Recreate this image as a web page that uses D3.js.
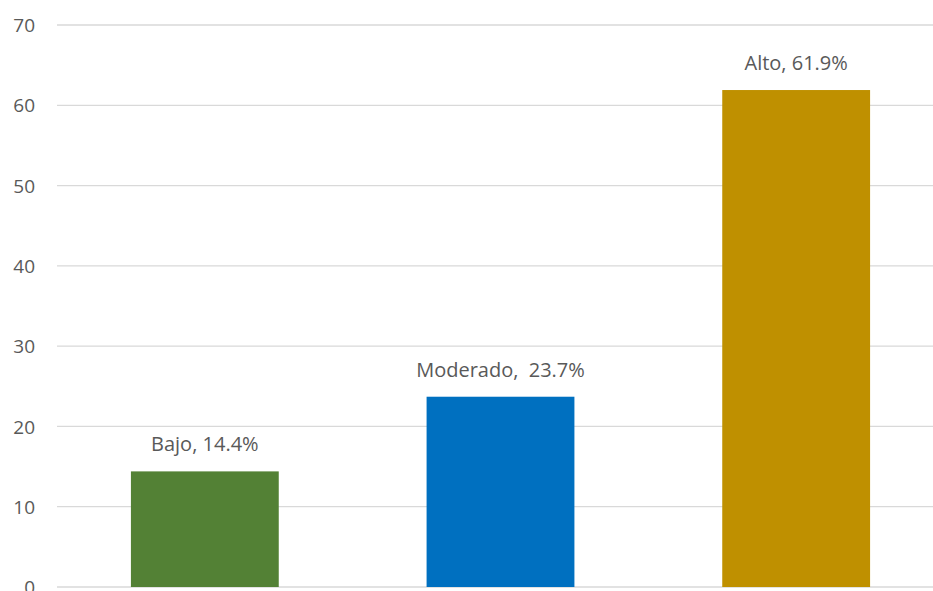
<!DOCTYPE html>
<html>
<head>
<meta charset="utf-8">
<script src="https://cdn.jsdelivr.net/npm/d3@7/dist/d3.min.js"></script>
<style>
  html, body { margin: 0; padding: 0; background: #fff; }
  svg { display: block; }
  text { font-family: "Open Sans", "Noto Sans", sans-serif; fill: #595959; }
</style>
</head>
<body>
<svg id="chart" width="933" height="591"></svg>
<script>
// Risk levels and their shares (%)
const categories = ["Bajo", "Moderado", "Alto"];
const values = [14.4, 23.7, 61.9];
const labels = ["Bajo, 14.4%", "Moderado,  23.7%", "Alto, 61.9%"];
const colors = ["#538135", "#0070C0", "#BF9000"];
const yTicks = [0, 10, 20, 30, 40, 50, 60, 70];

const svg = d3.select("#chart");
const W = 933, H = 591;
const plotLeft = 57, plotRight = 944, plotTop = 25, plotBottom = 587;

const x = d3.scaleBand().domain(categories).range([plotLeft, plotRight]).paddingInner(0.5).paddingOuter(0.25);
const y = d3.scaleLinear().domain([0, 70]).range([plotBottom, plotTop]);

// horizontal gridlines
svg.append("g")
  .selectAll("line")
  .data(yTicks)
  .join("line")
  .attr("x1", plotLeft).attr("x2", W)
  .attr("y1", d => y(d)).attr("y2", d => y(d))
  .attr("stroke", "#d9d9d9").attr("stroke-width", 1.3);

// y-axis tick labels
const yAxis = d3.axisLeft(y).tickValues(yTicks).tickSize(0).tickPadding(0);
const gy = svg.append("g").attr("transform", "translate(35,0)").call(yAxis);
gy.select(".domain").remove();
gy.selectAll("text")
  .attr("font-size", 19)
  .attr("dy", "0.35em")
  .style("font-family", '"Open Sans", "Noto Sans", sans-serif')
  .attr("fill", "#595959");

// bars
svg.append("g")
  .selectAll("rect")
  .data(categories)
  .join("rect")
  .attr("x", d => x(d))
  .attr("width", x.bandwidth())
  .attr("y", (d, i) => y(values[i]))
  .attr("height", (d, i) => y(0) - y(values[i]))
  .attr("fill", (d, i) => colors[i]);

// value labels
svg.append("g")
  .selectAll("text")
  .data(categories)
  .join("text")
  .attr("x", d => x(d) + x.bandwidth() / 2)
  .attr("y", (d, i) => y(values[i]) - 20)
  .attr("text-anchor", "middle")
  .attr("font-size", 20)
  .style("white-space", "pre")
  .text((d, i) => labels[i]);
</script>
</body>
</html>
